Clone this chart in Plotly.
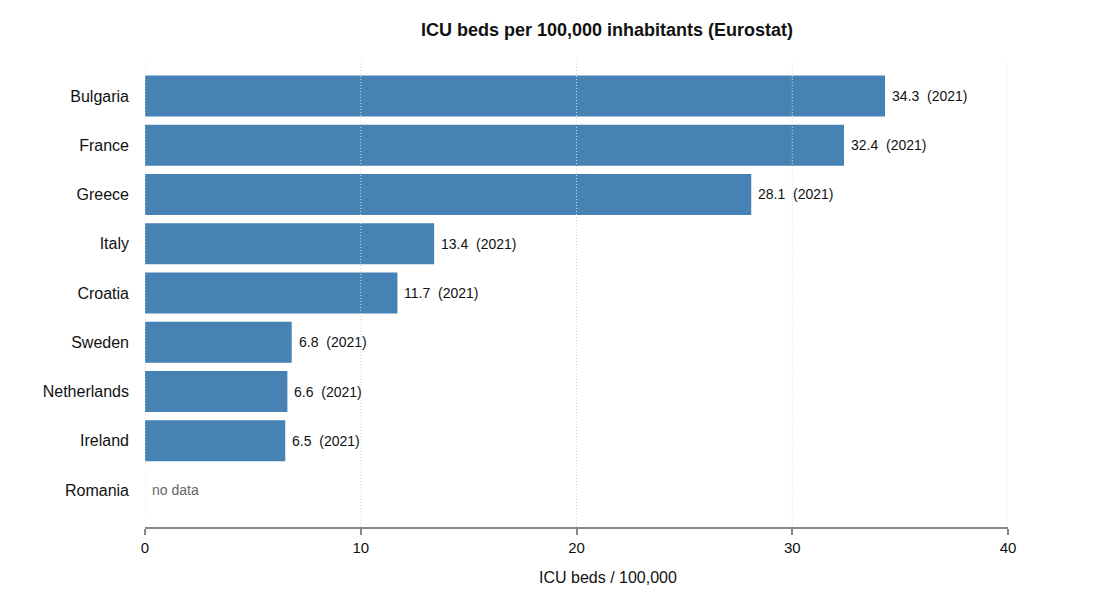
import plotly.graph_objects as go

countries = ['Bulgaria', 'France', 'Greece', 'Italy', 'Croatia', 'Sweden', 'Netherlands', 'Ireland', 'Romania']
beds = [34.3, 32.4, 28.1, 13.4, 11.7, 6.8, 6.6, 6.5, None]
years = [2021, 2021, 2021, 2021, 2021, 2021, 2021, 2021, None]
x_ticks = [0, 10, 20, 30, 40]

fig = go.Figure()
fig.add_trace(go.Bar(
    x=[v if v is not None else 0 for v in beds],
    y=countries,
    orientation='h',
    width=0.83,
    marker=dict(color='#4682B4', line=dict(width=0)),
    hoverinfo='skip',
))

# value labels (and "no data" where missing)
annotations = []
for c, v, yr in zip(countries, beds, years):
    if v is None:
        annotations.append(dict(x=0, y=c, xref='x', yref='y', text='no data',
                                showarrow=False, xanchor='left', xshift=5,
                                font=dict(size=14, color='#666')))
    else:
        annotations.append(dict(x=v, y=c, xref='x', yref='y',
                                text='%.1f&nbsp;&nbsp;(%d)' % (v, yr),
                                showarrow=False, xanchor='left', xshift=5,
                                font=dict(size=14, color='#111')))

# x axis title sits a bit right of the axis centre in the original
annotations.append(dict(text='ICU beds / 100,000', xref='paper', yref='paper',
                        x=(600 - 137) / 863, y=-50 / 468, showarrow=False,
                        xanchor='center', yanchor='middle',
                        font=dict(size=16, color='#111')))

# dotted grid drawn over the bars
shapes = [dict(type='line', xref='x', yref='paper', x0=t, x1=t, y0=0, y1=1,
               layer='above', line=dict(color='#d8d8d8', width=1, dash='1px,2px'))
          for t in x_ticks]

fig.update_layout(
    width=1092, height=592,
    paper_bgcolor='white', plot_bgcolor='white',
    font=dict(family='Liberation Sans, Arial, sans-serif', color='#111'),
    title=dict(text='<b>ICU beds per 100,000 inhabitants (Eurostat)</b>',
               x=599 / 1092, xanchor='center', xref='container',
               y=1 - 22 / 592, yanchor='middle', yref='container',
               font=dict(size=18, color='#111')),
    margin=dict(l=137, r=92, t=51, b=73),
    showlegend=False,
    annotations=annotations,
    shapes=shapes,
)
fig.update_xaxes(
    range=[0, 40], tickvals=x_ticks,
    showgrid=False,
    showline=True, linecolor='#888', linewidth=2,
    ticks='outside', ticklen=6, tickcolor='#888', tickwidth=2,
    tickfont=dict(size=15, color='#111'),
    zeroline=False,
)
fig.update_yaxes(
    categoryorder='array', categoryarray=countries,
    range=[8.75, -0.75],
    showgrid=False, showline=False, ticks='', ticklen=0,
    tickfont=dict(size=16, color='#111'),
    ticklabelstandoff=15,
)

fig.write_html('out.html')
